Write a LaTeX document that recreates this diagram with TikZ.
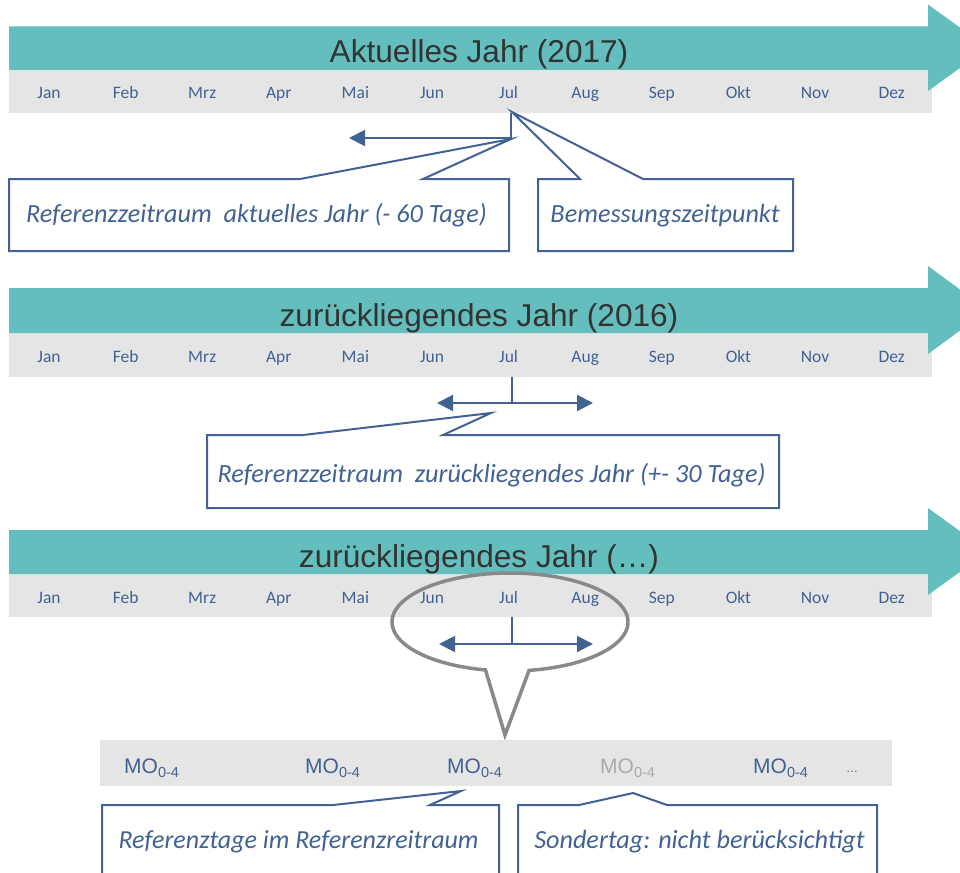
\documentclass[tikz,border=0pt]{standalone}
\usepackage{fontspec}
\setmainfont{Carlito}
\newfontfamily\arialf{Liberation Sans}
\usetikzlibrary{arrows.meta}
\definecolor{tealc}{RGB}{100,190,189}
\definecolor{bandc}{RGB}{229,229,229}
\definecolor{bluc}{RGB}{66,98,147}
\definecolor{ttlc}{RGB}{51,51,51}
\definecolor{ellc}{RGB}{137,137,137}
\definecolor{mogc}{RGB}{170,170,170}
\begin{document}
\begin{tikzpicture}[x=1pt,y=-1pt,
  month/.style={text=bluc, font=\fontsize{17.5}{20}\selectfont, inner sep=0pt, anchor=base},
  ttlstyle/.style={text=ttlc, font=\arialf\fontsize{31.6}{36}\selectfont, inner sep=0pt, anchor=base},
  callout/.style={draw=bluc, line width=2pt, fill=white, line join=miter},
  ctext/.style={text=bluc, font=\itshape\fontsize{26.2}{30}\selectfont, inner sep=0pt, anchor=base},
  conn/.style={draw=bluc, line width=2pt},
  tipend/.style={-{Triangle[length=16pt,width=16pt]}},
  tipboth/.style={{Triangle[length=16pt,width=16pt]}-{Triangle[length=16pt,width=16pt]}},
  molabel/.style={text=bluc, font=\arialf\fontsize{21}{24}\selectfont, inner sep=0pt, anchor=base west},
  bubble/.style={draw=ellc, line width=3.5pt, line join=miter}
]
\clip (0,0) rectangle (960,872);

% ---------- timelines ----------
\foreach \T/\M/\B/\ttl/\r in {26.5/70/113/Aktuelles Jahr (2017)/1,
                               288/333/377/zurückliegendes Jahr (2016)/2,
                               530/574/617/zurückliegendes Jahr (…)/3}{
  \fill[bandc] (9,\M) rectangle (932,\B);
  \fill[tealc] (9,\T) -- (928,\T) -- (928,\T-22) -- (988,{(\T-22+\M+21)/2})
     -- (928,\M+21) -- (928,\M) -- (9,\M) -- cycle;
  \node[ttlstyle] (title\r) at (479,\M-7) {\ttl};
  \foreach \m [count=\i] in {Jan,Feb,Mrz,Apr,Mai,Jun,Jul,Aug,Sep,Okt,Nov,Dez}
    \node[month] (r\r m\i) at ({49+76.6*(\i-1)},\M+29) {\m};
}

% ---------- row 1 ----------
\coordinate (a1top) at (511,113);
\coordinate (a1bot) at (511,138);
\coordinate (a1left) at (349,138);
\draw[conn] (a1top) -- (a1bot);
\draw[conn,tipend] (a1bot) -- (a1left);

\draw[callout] (9,179) -- (300,179) -- (511,139) -- (423,179) -- (509,179)
   -- (509,251) -- (9,251) -- cycle;
\node[ctext] (c1) at (256.5,222) {Referenzzeitraum\ \ aktuelles Jahr (- 60 Tage)};

\draw[callout] (538,179) -- (580,179) -- (512,112) -- (643,179) -- (793,179)
   -- (793,251) -- (538,251) -- cycle;
\node[ctext] (c2) at (665,222) {Bemessungszeitpunkt};

% ---------- row 2 ----------
\coordinate (a2top) at (512,377);
\coordinate (a2mid) at (512,403);
\coordinate (a2left) at (437,403);
\coordinate (a2right) at (593,403);
\draw[conn] (a2top) -- (a2mid);
\draw[conn,tipboth] (a2left) -- (a2right);

\draw[callout] (207,435) -- (303,435) -- (491,413) -- (443,435) -- (779,435)
   -- (779,508) -- (207,508) -- cycle;
\node[ctext] (c3) at (491.5,482) {Referenzzeitraum\ \ zurückliegendes Jahr (+- 30 Tage)};

% ---------- row 3 ----------
\coordinate (a3top) at (512,617);
\coordinate (a3mid) at (512,644);
\coordinate (a3left) at (439,644);
\coordinate (a3right) at (593,644);
\draw[conn] (a3top) -- (a3mid);
\draw[conn,tipboth] (a3left) -- (a3right);

\draw[bubble] plot[domain=102:440.7, samples=120, smooth] ({510+118*cos(\x)},{622+49*sin(\x)})
   -- (505,735) -- cycle;

% ---------- MO band ----------
\fill[bandc] (100,740) rectangle (892,786);
\node[molabel] (mo1) at (124,773) {MO\raisebox{-4pt}{\fontsize{14.5}{16}\selectfont 0-4}};
\node[molabel] (mo2) at (305,773) {MO\raisebox{-4pt}{\fontsize{14.5}{16}\selectfont 0-4}};
\node[molabel] (mo3) at (447,773) {MO\raisebox{-4pt}{\fontsize{14.5}{16}\selectfont 0-4}};
\node[molabel, text=mogc] (mo4) at (600,773) {MO\raisebox{-4pt}{\fontsize{14.5}{16}\selectfont 0-4}};
\node[molabel] (mo5) at (753,773) {MO\raisebox{-4pt}{\fontsize{14.5}{16}\selectfont 0-4}};
\node[molabel, font=\arialf\fontsize{12}{14}\selectfont] (mo6) at (846,772) {…};

\draw[callout] (102,805) -- (333,805) -- (461,791) -- (430,805) -- (499,805)
   -- (499,885) -- (102,885) -- cycle;
\node[ctext, font=\itshape\fontsize{26}{30}\selectfont] (c4) at (298.5,848) {Referenztage im Referenzreitraum};

\draw[callout] (518,805) -- (579,805) -- (633,793) -- (667,805) -- (877,805)
   -- (877,885) -- (518,885) -- cycle;
\node[ctext] (c5) at (699.5,848) {Sondertag: nicht berücksichtigt};
\end{tikzpicture}
\end{document}
